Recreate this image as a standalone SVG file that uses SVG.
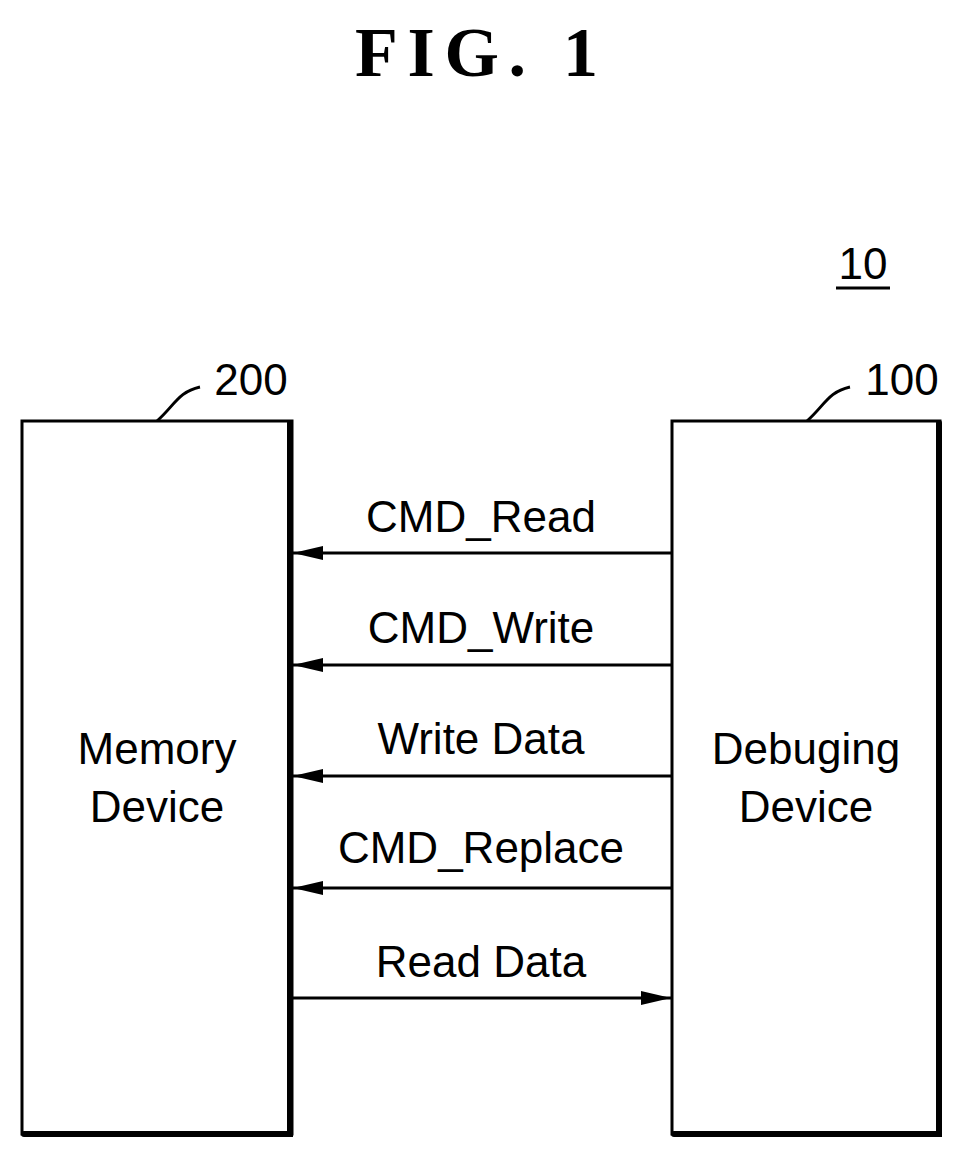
<svg xmlns="http://www.w3.org/2000/svg" width="965" height="1158" viewBox="0 0 965 1158">
<style>
.t{font-family:"Liberation Sans",Arial,sans-serif;font-size:44px;fill:#000}
.b{fill:#fff;stroke:#000;stroke-width:3}
.e{stroke:#000;stroke-width:6;stroke-linecap:round;fill:none}
.c{stroke:#000;stroke-width:3;fill:none}
</style>
<defs>
<marker id="a" viewBox="0 0 30 14" refX="30" refY="7" markerWidth="30" markerHeight="14" markerUnits="userSpaceOnUse" orient="auto"><path d="M0,0 L30,7 L0,14 Z" fill="#000"/></marker>
</defs>
<rect width="965" height="1158" fill="#fff"/>
<text x="355" y="76" textLength="243" lengthAdjust="spacing" style="font-family:'Liberation Serif',serif;font-weight:bold;font-size:70px">FIG.  1</text>
<text x="863" y="279" text-anchor="middle" class="t">10</text>
<line x1="836" y1="288" x2="890" y2="288" stroke="#000" stroke-width="3"/>
<g id="n200">
<rect class="b" x="22" y="421" width="270" height="713"/>
<path class="e" d="M290,423 V1134 H24"/>
<path class="c" d="M157,421 C175,405 178,392 200,387"/>
<text x="251" y="395" text-anchor="middle" class="t">200</text>
<text x="157" y="764" text-anchor="middle" class="t">Memory</text>
<text x="157" y="822" text-anchor="middle" class="t">Device</text>
</g>
<g id="n100">
<rect class="b" x="672" y="421" width="268" height="713"/>
<path class="e" d="M939,423 V1134 H674"/>
<path class="c" d="M807,421 C825,405 828,392 850,387"/>
<text x="902" y="395" text-anchor="middle" class="t">100</text>
<text x="806" y="764" text-anchor="middle" class="t">Debuging</text>
<text x="806" y="822" text-anchor="middle" class="t">Device</text>
</g>
<g id="connectors" stroke="#000" stroke-width="3">
<line x1="672" y1="553" x2="293" y2="553" marker-end="url(#a)"/>
<line x1="672" y1="665" x2="293" y2="665" marker-end="url(#a)"/>
<line x1="672" y1="776" x2="293" y2="776" marker-end="url(#a)"/>
<line x1="672" y1="888" x2="293" y2="888" marker-end="url(#a)"/>
<line x1="293" y1="998" x2="671" y2="998" marker-end="url(#a)"/>
</g>
<g class="t" text-anchor="middle">
<text x="481" y="532">CMD_Read</text>
<text x="481" y="643">CMD_Write</text>
<text x="481" y="754">Write Data</text>
<text x="481" y="863">CMD_Replace</text>
<text x="481" y="977">Read Data</text>
</g>
</svg>
